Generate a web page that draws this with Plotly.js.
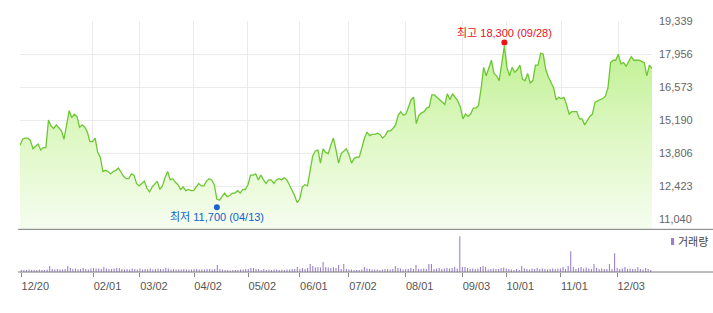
<!DOCTYPE html>
<html>
<head>
<meta charset="utf-8">
<script src="https://cdn.plot.ly/plotly-3.0.1.min.js"></script>
<style>
html,body{margin:0;padding:0;background:#fff;}
#chart{width:713px;height:313px;}
</style>
</head>
<body>
<div id="chart"></div>
<script>
// Daily closing prices, trading days 2017-12-20 .. 2018-12-20
const prices = [
14150,14400,14450,14450,14350,14000,14100,14200,13950,14050,
14050,15200,14950,14850,15000,14850,14750,14400,15050,15600,
15300,15450,15350,14900,15000,14900,14700,14300,14300,14450,
13850,13650,13050,13100,13050,12950,13050,13100,13200,13000,
12850,12750,12750,12950,12900,12550,12450,12550,12650,12350,
12200,12400,12550,12650,12300,12450,12800,13050,12700,12750,
12600,12500,12300,12400,12250,12300,12250,12250,12400,12550,
12450,12450,12650,12750,12700,12500,11900,11850,12000,12150,
12000,12050,12150,12150,12250,12150,12300,12300,12500,12900,
12900,12950,12700,12900,12700,12550,12700,12700,12550,12700,
12750,12700,12800,12700,12500,12300,12050,11750,11900,12400,
12500,12450,13150,13700,13900,13950,13400,14000,13850,13800,
14150,14450,13950,13400,13800,13900,14000,13750,13400,13600,
13650,13650,14100,14450,14700,14550,14600,14600,14650,14600,
14450,14550,14750,14750,14850,15000,15400,15550,15400,15450,
15750,16050,16150,15050,15400,15500,15550,15700,15750,16250,
16250,16150,16050,15950,15850,16300,16050,16300,16150,16000,
15750,15250,15450,15350,15450,15700,15700,15800,16500,17400,
17050,17350,17700,17150,17050,16850,17550,18300,17400,17050,
17400,17200,17300,17500,16900,16850,17150,16750,16850,17500,
17500,18000,17950,17300,17000,16800,16550,16050,16150,16100,
16150,15850,15450,15550,15550,15550,15250,15250,15000,15200,
15350,15450,15950,16000,16050,16100,16200,16550,17600,17700,
17700,17950,17550,17600,17450,17650,17850,17700,17700,17700,
17650,17600,17050,17500,17350
];

// Daily volume (thousand shares)
const volumes = [
40,40,40,50,40,40,40,50,40,40,
50,120,60,50,60,50,50,60,120,80,
60,70,50,60,80,60,50,70,80,70,
70,60,100,70,60,60,70,80,80,60,
50,60,50,70,60,50,70,50,60,60,
70,50,60,70,60,60,80,70,50,60,
50,50,50,60,50,50,50,60,60,50,
50,50,60,60,50,60,140,60,50,40,
40,30,40,40,40,50,50,60,60,80,
80,60,60,40,60,40,50,40,50,50,
40,50,40,50,50,60,60,100,60,80,
60,80,160,120,90,100,90,200,100,90,
80,100,80,140,60,160,60,50,50,40,
40,40,50,100,70,60,50,50,50,40,
50,60,60,50,60,120,80,70,50,60,
60,80,60,140,60,60,70,60,160,160,
60,70,80,60,70,80,70,80,100,70,
720,100,100,80,60,70,60,70,100,120,
100,50,60,70,60,60,80,90,70,60,
50,40,60,40,120,70,60,50,70,60,
80,60,70,60,50,60,70,60,70,70,
100,60,120,420,100,60,80,100,70,90,
70,60,160,80,60,70,60,60,160,60,
380,80,60,70,100,60,70,60,60,100,
60,50,80,60,40
];

// X tick labels (month starts) and their trading-day index
const tickLabels = ['12/20','02/01','03/02','04/02','05/02','06/01','07/02','08/01','09/03','10/01','11/01','12/03'];
const tickIndex  = [0, 28, 46, 67, 88, 108, 127, 149, 171, 188, 209, 231];

// Y tick values
const yTicks = [11040, 12423, 13806, 15190, 16573, 17956, 19339];

// High / low markers
const highVal = 18300, highIdx = 187, highDate = '09/28';
const lowVal  = 11700, lowIdx  = 76,  lowDate  = '04/13';

const idx = prices.map((_, i) => i);
const fmt = v => v.toLocaleString('en-US');
const yTickText = yTicks.map(fmt);

const FONT = 'Arial, "Liberation Sans", "Noto Sans CJK KR", sans-serif';

const traces = [
  {
    x: idx, y: prices, type: 'scatter', mode: 'lines',
    line: {color: '#6cc832', width: 1.3},
    fill: 'tozeroy',
    fillgradient: {
      type: 'vertical',
      start: 10635, stop: 18300,
      colorscale: [[0, 'rgba(246,253,240,1)'], [0.5, 'rgba(222,248,196,1)'], [1, 'rgba(192,240,146,1)']]
    },
    xaxis: 'x', yaxis: 'y', hoverinfo: 'skip'
  },
  {
    x: idx, y: volumes, type: 'bar',
    marker: {color: '#9a80cc', line: {width: 0}},
    width: 0.42,
    xaxis: 'x2', yaxis: 'y2', hoverinfo: 'skip'
  }
];

const layout = {
  width: 713, height: 313,
  margin: {l: 20, r: 61, t: 21, b: 41, pad: 0},
  paper_bgcolor: '#ffffff', plot_bgcolor: '#ffffff',
  showlegend: false,
  font: {family: FONT, size: 11, color: '#555'},
  xaxis: {
    domain: [0, 1], anchor: 'y',
    range: [0, 244], fixedrange: true,
    tickmode: 'array', tickvals: tickIndex, ticktext: tickLabels,
    showticklabels: false, ticks: '',
    showgrid: true, gridcolor: '#ebebeb', gridwidth: 1,
    zeroline: false, showline: false
  },
  yaxis: {
    domain: [0.170, 1], anchor: 'x', side: 'right',
    range: [10635, 19340], fixedrange: true,
    tickmode: 'array', tickvals: yTicks, ticktext: yTickText,
    showgrid: true, gridcolor: '#ebebeb', gridwidth: 1,
    zeroline: false, showline: false, ticks: '',
    ticklabelstandoff: 6,
    tickfont: {family: FONT, size: 11, color: '#666'}
  },
  xaxis2: {
    domain: [0, 1], anchor: 'y2',
    range: [-0.5, 244.5], fixedrange: true,
    tickmode: 'array', tickvals: tickIndex, ticktext: tickLabels,
    ticks: 'outside', ticklen: 4, tickcolor: '#888', tickwidth: 1,
    ticklabelshift: 14,
    showgrid: false, zeroline: false, showline: false,
    tickfont: {family: FONT, size: 11, color: '#555'}
  },
  yaxis2: {
    domain: [0, 0.170], anchor: 'x2',
    range: [0, 860], fixedrange: true,
    showgrid: false, zeroline: false, showline: false,
    showticklabels: false, ticks: ''
  },
  shapes: [
    {type: 'line', xref: 'paper', yref: 'paper', x0: -0.003, x1: 1.097, y0: 0.170, y1: 0.170,
     line: {color: '#7a7a7a', width: 1}},
    {type: 'line', xref: 'paper', yref: 'paper', x0: -0.003, x1: 1.097, y0: 0, y1: 0,
     line: {color: '#7a7a7a', width: 1}},
    {type: 'circle', xref: 'x', yref: 'y', xsizemode: 'pixel', ysizemode: 'pixel',
     xanchor: highIdx, yanchor: highVal, x0: -3, x1: 3, y0: 0.5, y1: 6.5,
     fillcolor: '#ee1111', line: {width: 0}},
    {type: 'circle', xref: 'x', yref: 'y', xsizemode: 'pixel', ysizemode: 'pixel',
     xanchor: lowIdx, yanchor: lowVal, x0: -3, x1: 3, y0: -0.5, y1: -6.5,
     fillcolor: '#1a62d0', line: {width: 0}},
    {type: 'rect', xref: 'paper', yref: 'paper', x0: 1.0301, x1: 1.0350, y0: 0.1076, y1: 0.1355,
     fillcolor: '#9a80cc', line: {width: 0}}
  ],
  annotations: [
    {x: highIdx, y: highVal, xref: 'x', yref: 'y', showarrow: false,
     text: '최고 ' + fmt(highVal) + ' (' + highDate + ')', yshift: 13,
     xanchor: 'center', yanchor: 'middle',
     font: {family: FONT, size: 11, color: '#e8101a'}},
    {x: lowIdx, y: lowVal, xref: 'x', yref: 'y', showarrow: false,
     text: '최저 ' + fmt(lowVal) + ' (' + lowDate + ')', yshift: -13,
     xanchor: 'center', yanchor: 'middle',
     font: {family: FONT, size: 11, color: '#1060d0'}},
    {x: 1.0385, y: 0.1215, xref: 'paper', yref: 'paper', showarrow: false,
     text: '거래량', xanchor: 'left', yanchor: 'middle',
     font: {family: FONT, size: 11, color: '#444'}}
  ]
};

Plotly.newPlot('chart', traces, layout, {displayModeBar: false, staticPlot: true});
</script>
</body>
</html>
